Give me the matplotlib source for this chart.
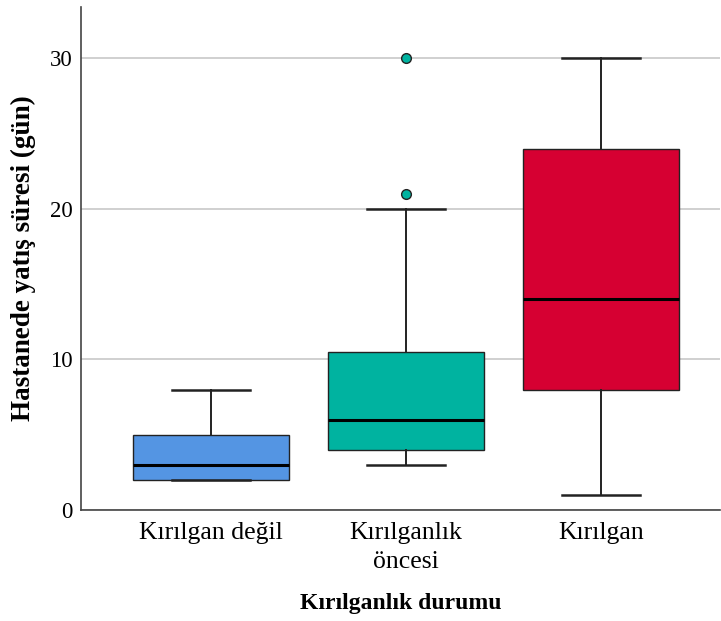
import matplotlib
matplotlib.use("Agg")
import matplotlib.pyplot as plt

# boxplot summary for each frailty group
groups = ["Kırılgan değil", "Kırılganlık\nöncesi", "Kırılgan"]
whislo = [2, 3, 1]
q1 = [2, 4, 8]
med = [3, 6, 14]
q3 = [5, 10.5, 24]
whishi = [8, 20, 30]
fliers = [[], [21, 30], []]
colors = ["#5495e3", "#00b3a0", "#d60032"]

plt.rcParams['font.family'] = ['Liberation Serif', 'DejaVu Serif']

fig = plt.figure(figsize=(7.21, 6.21), dpi=100)
ax = fig.add_axes([81/721, 1 - 510/621, 639/721, 503/621])

stats = []
for i in range(len(groups)):
    stats.append({"whislo": whislo[i], "q1": q1[i], "med": med[i], "q3": q3[i],
                  "whishi": whishi[i], "fliers": fliers[i]})

bp = ax.bxp(stats, positions=range(len(groups)), widths=0.8, patch_artist=True,
            capwidths=0.4, showfliers=True,
            boxprops=dict(linewidth=1.0, edgecolor="#222222"),
            medianprops=dict(color="black", linewidth=2.2),
            whiskerprops=dict(color="#222222", linewidth=1.4),
            capprops=dict(color="#222222", linewidth=1.8),
            flierprops=dict(marker="o", markersize=7, markeredgecolor="#222222",
                            markeredgewidth=1.0))
for patch, c in zip(bp["boxes"], colors):
    patch.set_facecolor(c)
for fl, c in zip(bp["fliers"], colors):
    fl.set_markerfacecolor(c)

ax.set_ylim(0, 33.4)
ax.set_xlim(-0.667, 2.61)
ax.set_yticks([0, 10, 20, 30])
ax.yaxis.grid(True, color="#d0d0d0", linewidth=1.4)
ax.set_axisbelow(True)
ax.set_xticks(range(len(groups)))
ax.set_xticklabels(groups, fontsize=18.5, linespacing=1.4)
ax.tick_params(axis="y", labelsize=16.5, length=0, pad=6)
ax.tick_params(axis="x", length=0, pad=9)
for s in ["top", "right"]:
    ax.spines[s].set_visible(False)
for s in ["left", "bottom"]:
    ax.spines[s].set_color("#444444")
    ax.spines[s].set_linewidth(1.2)

ax.set_ylabel("Hastanede yatış süresi (gün)", fontsize=19.5, fontweight="bold", labelpad=10)
ax.set_xlabel("Kırılganlık durumu", fontsize=17, fontweight="bold", labelpad=14)

fig.savefig("out.png", dpi=100)
